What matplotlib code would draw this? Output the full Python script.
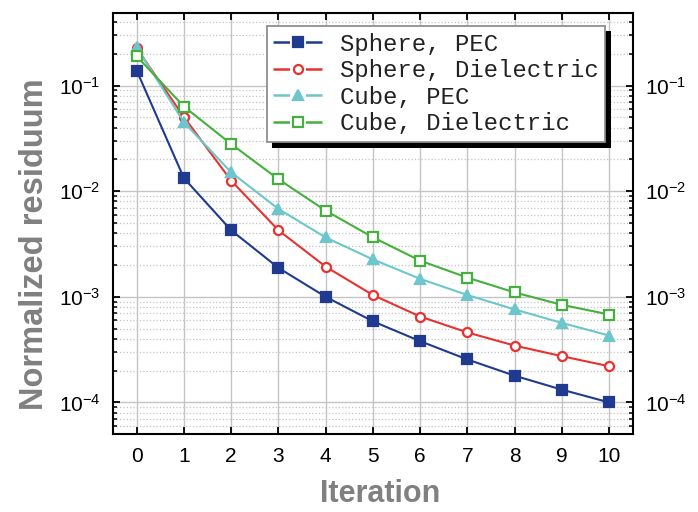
import numpy as np
import matplotlib
matplotlib.use('Agg')
import matplotlib.pyplot as plt
import matplotlib.patheffects as pe
from matplotlib.lines import Line2D
from matplotlib.ticker import LogLocator, NullFormatter

plt.rcParams['font.family'] = ['Liberation Sans', 'DejaVu Sans']
plt.rcParams['mathtext.default'] = 'regular'

iterations = np.arange(0, 11)

sphere_pec = [0.139, 0.0133, 0.00427, 0.00188, 1.0e-3, 5.86e-4, 3.8e-4,
              2.55e-4, 1.79e-4, 1.32e-4, 1.0e-4]
sphere_diel = [0.226, 0.0504, 0.0126, 0.00427, 1.93e-3, 1.04e-3, 6.5e-4,
               4.6e-4, 3.45e-4, 2.74e-4, 2.2e-4]
cube_pec = [0.23, 0.045, 0.0151, 0.0068, 3.65e-3, 2.26e-3, 1.48e-3,
            1.04e-3, 7.6e-4, 5.66e-4, 4.3e-4]
cube_diel = [0.19, 0.0634, 0.028, 0.013, 6.55e-3, 3.66e-3, 2.2e-3,
             1.52e-3, 1.1e-3, 8.4e-4, 6.8e-4]

labels = ['Sphere, PEC', 'Sphere, Dielectric', 'Cube, PEC', 'Cube, Dielectric']
colors = ['#1f3a8f', '#e8322f', '#6cc6cc', '#45b03d']
markers = ['s', 'o', '^', 's']
faces = [colors[0], 'white', colors[2], 'white']
sizes = [6.5, 6.5, 7.5, 6.5]

fig = plt.figure(figsize=(6.98, 5.12), dpi=100)
ax = fig.add_axes([0.162, 0.152, 0.7445, 0.823])

series = [sphere_pec, sphere_diel, cube_pec, cube_diel]
for vals, c, m, fc, ms in zip(series, colors, markers, faces, sizes):
    ax.plot(iterations, vals, '-', marker=m, color=c, lw=1.5, ms=ms,
            mfc=fc, mew=1.6)

ax.set_yscale('log')
ax.set_xlim(-0.5, 10.5)
ax.set_ylim(5e-5, 0.49)
ax.set_xticks(iterations)
ax.yaxis.set_major_locator(LogLocator(base=10, numticks=10))
ax.yaxis.set_minor_locator(LogLocator(base=10, subs=np.arange(2, 10), numticks=10))
ax.yaxis.set_minor_formatter(NullFormatter())

ax.grid(True, which='major', color='#c4c4c4', lw=1.0, ls='-')
ax.grid(True, which='minor', axis='y', color='#c4c4c4', lw=0.9, ls=':')
ax.set_axisbelow(True)

for s in ax.spines.values():
    s.set_linewidth(1.5)
ax.tick_params(which='both', direction='in', top=True, right=True,
               labelright=True, labelsize=15, pad=9)
ax.tick_params(which='major', length=5, width=1.3)
ax.tick_params(which='minor', length=3, width=1.1)

ax.set_xlabel('Iteration', fontsize=22, fontweight='bold', color='#808080',
              va='center')
ax.set_ylabel('Normalized residuum', fontsize=23.5, fontweight='bold',
              color='#808080', va='center')
ax.xaxis.set_label_coords(0.514, -0.1425)
ax.yaxis.set_label_coords(-0.152, 0.452)

# legend handles: line - marker - line with gaps (dashes scale with lw)
handles = [Line2D([], [], color=c, lw=1.8, marker=m, ms=ms, mfc=fc, mew=1.6,
                  dashes=(6.6, 6.4))
           for c, m, fc, ms in zip(colors, markers, faces, sizes)]
leg = ax.legend(handles, labels, loc='upper right',
                bbox_to_anchor=(0.947, 0.969), borderaxespad=0,
                fancybox=False, framealpha=1, edgecolor='#909090',
                prop={'family': 'Liberation Mono', 'size': 17.2},
                handlelength=2.1, handletextpad=0.68, labelspacing=0.15,
                borderpad=0.28, numpoints=1)
for t in leg.get_texts():
    t.set_color('#222222')
leg.get_frame().set_linewidth(1.3)
leg.get_frame().set_path_effects([
    pe.SimplePatchShadow(offset=(4, -4), shadow_rgbFace='black', alpha=1),
    pe.Normal()])

fig.savefig('out.png', dpi=100)
